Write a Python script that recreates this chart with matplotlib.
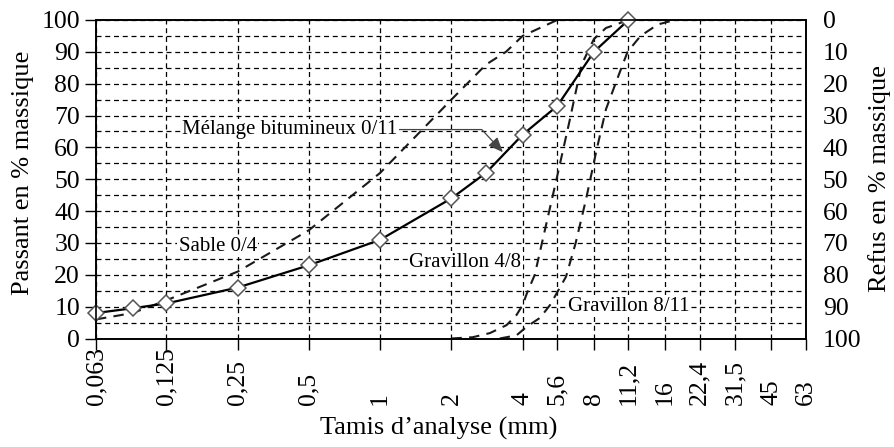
import matplotlib.pyplot as plt
import matplotlib.ticker as mticker

plt.rcParams['font.family'] = ['Liberation Serif', 'DejaVu Serif']

# sieve sizes (mm) and tick labels
tick_sizes = [0.063, 0.125, 0.25, 0.5, 1, 2, 4, 5.6, 8, 11.2, 16, 22.4, 31.5, 45, 63]
tick_labels = ['0,063', '0,125', '0,25', '0,5', '1', '2', '4', '5,6', '8',
               '11,2', '16', '22,4', '31,5', '45', '63']

# Melange bitumineux 0/11 (passing %)
mel_x = [0.063, 0.09, 0.125, 0.25, 0.5, 1, 2, 2.8, 4, 5.6, 8, 11.2]
mel_y = [8, 9.5, 11, 16, 23, 31, 44, 52, 64, 73, 90, 100]

# Sable 0/4
sab_x = [0.063, 0.09, 0.125, 0.25, 0.5, 1, 2, 2.8, 3.4, 4, 5.6]
sab_y = [6, 8, 12, 21, 34, 52, 75, 86, 90, 95, 100]

# Gravillon 4/8
g48_x = [2, 2.46, 2.91, 3.42, 3.77, 4, 4.16, 4.5, 5, 5.6, 6.3, 7.1, 8, 9, 11.2]
g48_y = [0, 0.4, 1.7, 4.2, 7.4, 10.5, 14, 20, 35, 51, 68, 86, 94, 97.5, 100]

# Gravillon 8/11
g811_x = [3.2, 3.77, 4.16, 4.74, 5.22, 5.55, 6.1, 6.7, 7.4, 8.2, 9.0, 10.1, 11.1, 12.6, 14.9, 17.6]
g811_y = [0, 1, 3.7, 6.5, 10.5, 14, 19.4, 30, 43.5, 59, 72, 82, 90, 95, 98.6, 100]

fig = plt.figure(figsize=(8.95, 4.47), dpi=100)
ax = fig.add_axes([96/895, 1-338.5/447, 710/895, 318.5/447])

ax.set_xscale('log')
ax.set_xlim(0.063, 63)
ax.set_ylim(0, 100)

ax.set_xticks(tick_sizes)
ax.set_xticklabels([])
ax.xaxis.set_minor_locator(mticker.NullLocator())
ax.set_yticks(range(0, 101, 10))
ax.set_yticks(range(5, 100, 10), minor=True)

ax.grid(True, which='both', axis='y', color='black', linestyle=(0, (4, 3)), linewidth=0.9)
ax.grid(True, which='major', axis='x', color='black', linestyle=(0, (4, 3)), linewidth=0.9)
ax.tick_params(axis='y', which='minor', length=0)
ax.tick_params(axis='both', which='major', labelsize=18.5, direction='out', length=8, width=1)

# rotated x labels, aligned on their start (bottom)
for s, lab in zip(tick_sizes, tick_labels):
    ax.text(s, (338.5 - 405) / 318.5, lab, rotation=90, fontsize=18.5,
            ha='center', va='bottom', transform=ax.get_xaxis_transform())

dash = (0, (5, 3.5))
ax.plot(sab_x, sab_y, color='#1a1a1a', linestyle=dash, linewidth=1.5, zorder=3)
ax.plot(g48_x, g48_y, color='#1a1a1a', linestyle=dash, linewidth=1.5, zorder=3)
ax.plot(g811_x, g811_y, color='#1a1a1a', linestyle=dash, linewidth=1.5, zorder=3)
ax.plot(mel_x, mel_y, color='black', linewidth=1.6, marker='D', markersize=8,
        markerfacecolor='white', markeredgecolor='#555555', markeredgewidth=1.1,
        zorder=4, clip_on=False)

box = dict(facecolor='white', edgecolor='none', pad=1)
ax.text(0.206, 29, 'Sable 0/4', fontsize=15, ha='center', va='center', bbox=box, zorder=5)
ax.text(3.95, 24, 'Gravillon 4/8', fontsize=15, ha='right', va='center', bbox=box, zorder=5)
ax.text(6.2, 10.2, 'Gravillon 8/11', fontsize=15, ha='left', va='center', bbox=box, zorder=5)
ax.annotate('Mélange bitumineux 0/11', xy=(3.3, 58.5), xytext=(0.1454, 65.6),
            fontsize=15, ha='left', va='center', bbox=box, zorder=5,
            arrowprops=dict(arrowstyle='-|>,head_length=0.6,head_width=0.25',
                            connectionstyle='angle,angleA=0,angleB=-47,rad=0',
                            color='#444444', lw=0.9, shrinkA=0, shrinkB=0))

ax2 = ax.twinx()
ax2.set_ylim(100, 0)
ax2.set_yticks(range(0, 101, 10))
ax2.tick_params(axis='y', labelsize=18.5, direction='out', length=0, pad=12)

for a in (ax, ax2):
    for s in a.spines.values():
        s.set_linewidth(1.2)

fig.text(23/895, 1-173/447, 'Passant en % massique', rotation=90, fontsize=19,
         ha='center', va='center')
fig.text(880/895, 1-179/447, 'Refus en % massique', rotation=90, fontsize=19,
         ha='center', va='center')
fig.text(439/895, 1-428/447, 'Tamis d\u2019analyse (mm)', fontsize=19,
         ha='center', va='center')

fig.savefig('out.png', dpi=100)
